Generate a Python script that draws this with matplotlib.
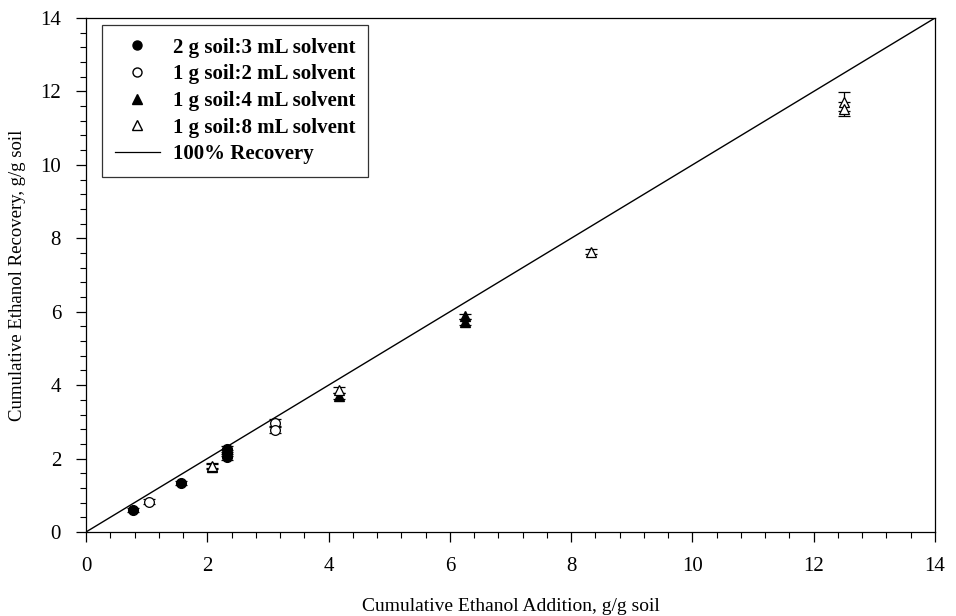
import matplotlib
matplotlib.use("Agg")
import matplotlib.pyplot as plt
from matplotlib.lines import Line2D
from matplotlib.ticker import MultipleLocator

plt.rcParams['font.family'] = ['Liberation Serif', 'DejaVu Serif']

# Data
s1_x = [0.78, 1.56, 2.33, 2.33, 2.33]
s1_y = [0.60, 1.34, 2.25, 2.14, 2.04]
s1_e = [0.06, 0.06, 0.08, 0.08, 0.08]

s2_x = [1.04, 3.12, 3.12]
s2_y = [0.83, 2.97, 2.79]
s2_e = [0.06, 0.10, 0.10]

s3_x = [2.08, 4.17, 6.25, 6.25]
s3_y = [1.78, 3.70, 5.87, 5.72]
s3_e = [0.07, 0.08, 0.08, 0.08]

s4_x = [2.08, 4.17, 8.33, 12.5, 12.5]
s4_y = [1.81, 3.86, 7.64, 11.72, 11.52]
s4_e = [0.06, 0.08, 0.06, 0.26, 0.20]

labels = ["2 g soil:3 mL solvent", "1 g soil:2 mL solvent",
          "1 g soil:4 mL solvent", "1 g soil:8 mL solvent", "100% Recovery"]

fig = plt.figure(figsize=(9.56, 6.16), dpi=100)
ax = fig.add_axes([86/956, 1-532/616, (935-86)/956, (532-18)/616])

ax.plot([0, 14], [0, 14], color='black', lw=1.0, zorder=1)

common = dict(ecolor='black', elinewidth=0.9, capsize=4, capthick=0.9, linestyle='none', zorder=3)
ax.errorbar(s1_x, s1_y, yerr=s1_e, marker='o', ms=7, mfc='black', mec='black', **common)
ax.errorbar(s2_x, s2_y, yerr=s2_e, marker='o', ms=7, mfc='white', mec='black', mew=0.9, **common)
ax.errorbar(s3_x, s3_y, yerr=s3_e, marker='^', ms=7.5, mfc='black', mec='black', **common)
ax.errorbar(s4_x, s4_y, yerr=s4_e, marker='^', ms=7.5, mfc='white', mec='black', mew=0.9, **common)

ax.set_xlim(0, 14)
ax.set_ylim(0, 14)
ax.xaxis.set_major_locator(MultipleLocator(2))
ax.xaxis.set_minor_locator(MultipleLocator(0.4))
ax.yaxis.set_major_locator(MultipleLocator(2))
ax.yaxis.set_minor_locator(MultipleLocator(0.4))
ax.tick_params(which='major', direction='out', length=7, width=0.9, labelsize=15, pad=11)
ax.tick_params(which='minor', direction='out', length=4, width=0.8)
ax.tick_params(top=False, right=False)
for sp in ax.spines.values():
    sp.set_linewidth(0.9)

ax.set_xlabel("Cumulative Ethanol Addition, g/g soil", fontsize=14, labelpad=16)
ax.set_ylabel("Cumulative Ethanol Recovery, g/g soil", fontsize=13.5, labelpad=10)

handles = [
    Line2D([], [], marker='o', ms=6.5, mfc='black', mec='black', ls='none'),
    Line2D([], [], marker='o', ms=6.5, mfc='white', mec='black', ls='none'),
    Line2D([], [], marker='^', ms=6.5, mfc='black', mec='black', ls='none'),
    Line2D([], [], marker='^', ms=6.5, mfc='white', mec='black', ls='none'),
    Line2D([], [], color='black', lw=0.9),
]
leg = ax.legend(handles, labels, loc='upper left', bbox_to_anchor=(16/849, 1-7/514),
                borderaxespad=0, frameon=True, fancybox=False, edgecolor='black',
                handlelength=2.2, prop={'weight': 'bold', 'size': 15}, borderpad=0.6,
                labelspacing=0.32, handletextpad=0.6)
leg.get_frame().set_linewidth(0.9)

fig.savefig("out.png", dpi=100)
